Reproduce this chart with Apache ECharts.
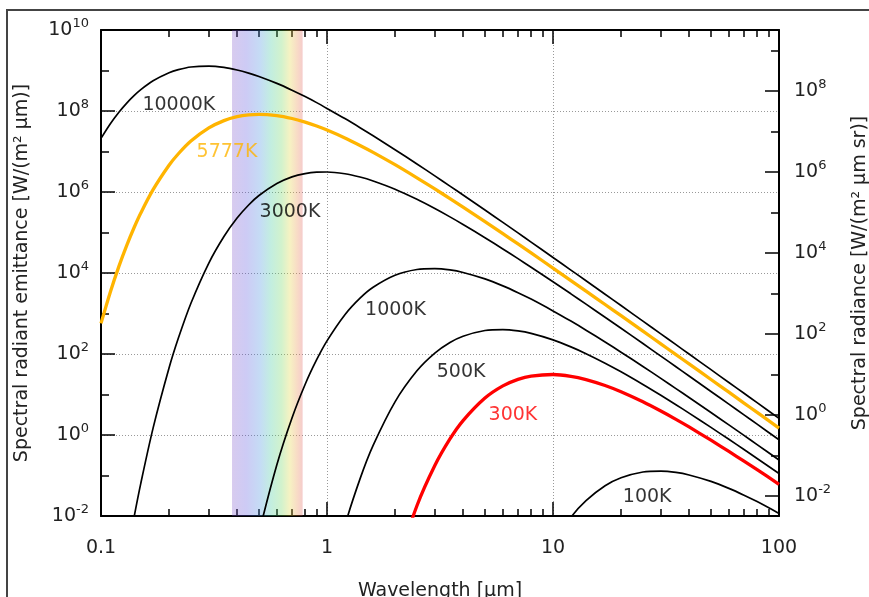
<!DOCTYPE html>
<html>
<head>
<meta charset="utf-8">
<script src="https://cdn.jsdelivr.net/npm/echarts@6/dist/echarts.min.js"></script>
<style>
html,body{margin:0;padding:0;background:#fff}
#chart{width:869px;height:597px}
</style>
</head>
<body>
<div id="chart"></div>
<script>
// wavelengths in µm
const wavelength = [0.1,0.11,0.12,0.13,0.14,0.15,0.17,0.2,0.22,0.25,0.3,0.35,0.4,0.45,0.5,0.6,0.7,0.8,0.9,1,
  1.2,1.4,1.6,2,2.5,3,3.5,4,5,6,7,8,10,12,14,17,20,25,30,35,40,50,60,70,80,100]

// spectral radiant emittance, W/(m² µm)
const t10000 = [2.11e7,4.85e7,9.33e7,1.57e8,2.39e8,3.37e8,5.57e8,8.79e8,1.05e9,1.22e9,1.28e9,1.19e9,1.03e9,8.64e8,7.14e8,4.81e8,3.27e8,2.27e8,1.61e8,1.16e8,
  6.49e7,3.88e7,2.45e7,1.11e7,4.92e6,2.50e6,1.40e6,8.44e5,3.59e5,1.78e5,9.76e4,5.80e4,2.42e4,1.18e4,6.43e3,2.98e3,1.57e3,647,313,170,99.7,41.0,19.8,10.7,6.29,2.58]
const t5777 = [571,3.41e3,1.46e4,4.82e4,1.31e5,3.03e5,1.14e6,4.57e6,8.80e6,1.81e7,3.82e7,5.79e7,7.24e7,8.04e7,8.28e7,7.70e7,6.53e7,5.31e7,4.25e7,3.38e7,
  2.16e7,1.41e7,9.54e6,4.73e6,2.24e6,1.19e6,6.87e5,4.23e5,1.86e5,9.35e4,5.21e4,3.13e4,1.32e4,6.52e3,3.57e3,1.67e3,882,366,178,96.6,56.9,23.5,11.4,6.15,3.61,1.48]
const t3000 = [null,null,6.6e-5,9.57e-4,9.23e-3,0.0641,1.48,45.0,247,1.79e3,1.76e4,7.97e4,2.27e5,4.77e5,8.18e5,1.62e6,2.36e6,2.85e6,3.09e6,3.12e6,
  2.82e6,2.34e6,1.87e6,1.17e6,6.59e5,3.90e5,2.43e5,1.58e5,7.44e4,3.93e4,2.26e4,1.39e4,6.08e3,3.06e3,1.70e3,809,432,181,88.8,48.5,28.7,11.9,5.78,3.14,1.85,0.762]
const t1000 = [null,null,null,null,null,null,null,null,null,null,null,null,null,2.64e-4,3.81e-3,0.185,2.64,17.7,72.2,211,
  933,2.39e3,4.44e3,8.79e3,1.22e4,1.28e4,1.19e4,1.03e4,7.14e3,4.81e3,3.27e3,2.27e3,1.16e3,649,388,198,111,49.2,25.0,14.0,8.44,3.59,1.78,0.976,0.580,0.242]
const t500 = [null,null,null,null,null,null,null,null,null,null,null,null,null,null,null,null,null,null,null,1.19e-4,
  5.79e-3,0.0824,0.552,6.60,38.4,105,192,275,380,401,371,322,223,150,102,59.4,36.4,17.7,9.57,5.59,3.47,1.54,0.782,0.438,0.264,0.112]
const t300 = [null,null,null,null,null,null,null,null,null,null,null,null,null,null,null,null,null,null,null,null,
  null,null,null,4.5e-4,0.0179,0.176,0.798,2.27,8.18,16.3,23.6,28.5,31.2,28.2,23.4,16.7,11.7,6.60,3.90,2.43,1.58,0.744,0.393,0.226,0.139,0.0608]
const t100 = [null,null,null,null,null,null,null,null,null,null,null,null,null,null,null,null,null,null,null,null,
  null,null,null,null,null,null,null,null,null,null,null,1.77e-4,2.11e-3,9.33e-3,0.0239,0.0556,0.0879,0.122,0.128,0.119,0.103,0.0714,0.0481,0.0327,0.0227,0.0116]

// axis ticks
const xMajor = [0.1,1,10,100]
const xMinor = [0.2,0.3,0.4,0.5,0.6,0.7,0.8,0.9,2,3,4,5,6,7,8,9,20,30,40,50,60,70,80,90]
const leftMajor = [1e-2,1,1e2,1e4,1e6,1e8,1e10]
const leftMinor = [1e-1,1e1,1e3,1e5,1e7,1e9]
const rightMajor = [1e-2,1,1e2,1e4,1e6,1e8]
const rightMinor = [1e-1,1e1,1e3,1e5,1e7,1e9]

// visible light band, µm
const visibleBand = [0.38, 0.78]

const FONT = 'DejaVu Sans'
const ORANGE = '#ffb400'
const RED = '#ff0000'

// curve name tags, anchored in data space
const tags = [
  {name:'10000K', at:[0.221,1.41e8], color:'#000'},
  {name:'5777K', at:[0.361,9.8e6], color:ORANGE},
  {name:'3000K', at:[0.686,3.21e5], color:'#000'},
  {name:'1000K', at:[2.01,1.22e3], color:'#000'},
  {name:'500K', at:[3.92,36.0], color:'#000'},
  {name:'300K', at:[6.65,3.03], color:RED},
  {name:'100K', at:[26.1,0.0294], color:'#000'}
]

function pairs(vals){
  const out = []
  vals.forEach((v,i)=>{ if(v!=null) out.push([wavelength[i], v]) })
  return out
}

function sup(v){
  const e = Math.round(Math.log10(v))
  return '{b|10}{s|' + e + '}'
}
const supRich = {
  b:{fontSize:19, lineHeight:25, color:'#222', fontFamily:FONT},
  s:{fontSize:13, lineHeight:13, verticalAlign:'top', color:'#222', fontFamily:FONT}
}

function tickOnly(pos, min, max, vals, len){
  return {
    type:'log', logBase:10, min:min, max:max, position:pos,
    axisLine:{show:false},
    axisTick:{show:true, inside:true, length:len, customValues:vals, lineStyle:{color:'#000', width:1.5}},
    axisLabel:{show:false},
    splitLine:{show:false}
  }
}

const frameLine = {show:true, onZero:false, lineStyle:{color:'#000', width:2}}
const gridDots = {show:true, lineStyle:{type:[1,2], color:'#999', width:1}}

var myChart = echarts.init(document.getElementById('chart'))

const lines = [
  {name:'10000K', data:t10000, color:'#000', width:1.7},
  {name:'3000K', data:t3000, color:'#000', width:1.7},
  {name:'1000K', data:t1000, color:'#000', width:1.7},
  {name:'500K', data:t500, color:'#000', width:1.7},
  {name:'100K', data:t100, color:'#000', width:1.7},
  {name:'5777K', data:t5777, color:ORANGE, width:3.3},
  {name:'300K', data:t300, color:RED, width:3.3}
]

const series = [{
  // spectrum band behind the curves
  type:'line', data:[], z:1, silent:true,
  markArea:{
    silent:true,
    itemStyle:{
      color:new echarts.graphic.LinearGradient(0,0,1,0,[
        {offset:0, color:'rgba(125,82,200,0.3)'},
        {offset:0.2, color:'rgba(90,82,222,0.3)'},
        {offset:0.4, color:'rgba(62,138,222,0.3)'},
        {offset:0.55, color:'rgba(55,198,152,0.3)'},
        {offset:0.7, color:'rgba(105,212,88,0.3)'},
        {offset:0.82, color:'rgba(225,212,55,0.3)'},
        {offset:0.92, color:'rgba(232,138,65,0.3)'},
        {offset:1, color:'rgba(222,85,85,0.3)'}
      ])
    },
    data:[[{xAxis:visibleBand[0]},{xAxis:visibleBand[1]}]]
  }
}]

lines.forEach(l=>{
  series.push({
    name:l.name, type:'line', data:pairs(l.data),
    showSymbol:false, symbol:'none', smooth:0.3, clip:true, silent:true,
    lineStyle:{color:l.color, width:l.width}, z:3
  })
})

series.push({
  type:'scatter', symbolSize:1, silent:true, z:4,
  itemStyle:{color:'rgba(0,0,0,0)'},
  label:{show:true, position:'inside', formatter:'{b}', fontSize:19, fontFamily:FONT},
  data:tags.map(t=>({name:t.name, value:t.at, label:{color:t.color}}))
})

const option = {
  animation:false,
  backgroundColor:'#fff',
  grid:{left:101, right:90, top:30, bottom:81, containLabel:false, outerBoundsMode:'none'},
  graphic:[{
    type:'rect', z:100, silent:true,
    shape:{x:7, y:10, width:900, height:700},
    style:{fill:null, stroke:'#444', lineWidth:2}
  }],
  xAxis:[
    {
      type:'log', logBase:10, min:0.1, max:100, position:'bottom',
      axisLine:frameLine,
      axisTick:{show:true, inside:true, length:14, customValues:xMajor, lineStyle:{color:'#000', width:1.5}},
      axisLabel:{customValues:xMajor, margin:23, fontSize:19, color:'#222', fontFamily:FONT,
        formatter:v=>String(+(+v).toPrecision(3))},
      splitLine:gridDots,
      name:'Wavelength [µm]', nameLocation:'middle', nameGap:66,
      nameTextStyle:{fontSize:19, color:'#222', fontFamily:FONT}
    },
    tickOnly('bottom',0.1,100,xMinor,7),
    {
      type:'log', logBase:10, min:0.1, max:100, position:'top',
      axisLine:frameLine,
      axisTick:{show:true, inside:true, length:14, customValues:xMajor, lineStyle:{color:'#000', width:1.5}},
      axisLabel:{show:false}, splitLine:{show:false}
    },
    tickOnly('top',0.1,100,xMinor,7)
  ],
  yAxis:[
    {
      type:'log', logBase:10, min:1e-2, max:1e10, position:'left',
      axisLine:frameLine,
      axisTick:{show:true, inside:true, length:14, customValues:leftMajor, lineStyle:{color:'#000', width:1.5}},
      axisLabel:{customValues:leftMajor, margin:12, formatter:sup, rich:supRich},
      splitLine:gridDots,
      name:'Spectral radiant emittance [W/(m² µm)]', nameLocation:'middle', nameRotate:90, nameGap:69,
      nameTextStyle:{fontSize:19, color:'#222', fontFamily:FONT}
    },
    tickOnly('left',1e-2,1e10,leftMinor,8),
    {
      type:'log', logBase:10, min:1e-2/Math.PI, max:1e10/Math.PI, position:'right',
      axisLine:frameLine,
      axisTick:{show:true, inside:true, length:14, customValues:rightMajor, lineStyle:{color:'#000', width:1.5}},
      axisLabel:{customValues:rightMajor, margin:15, formatter:sup, rich:supRich},
      splitLine:{show:false},
      name:'Spectral radiance [W/(m² µm sr)]', nameLocation:'middle', nameRotate:90, nameGap:72,
      nameTextStyle:{fontSize:19, color:'#222', fontFamily:FONT}
    },
    tickOnly('right',1e-2/Math.PI,1e10/Math.PI,rightMinor,8)
  ],
  series:series
}

myChart.setOption(option)
</script>
</body>
</html>
